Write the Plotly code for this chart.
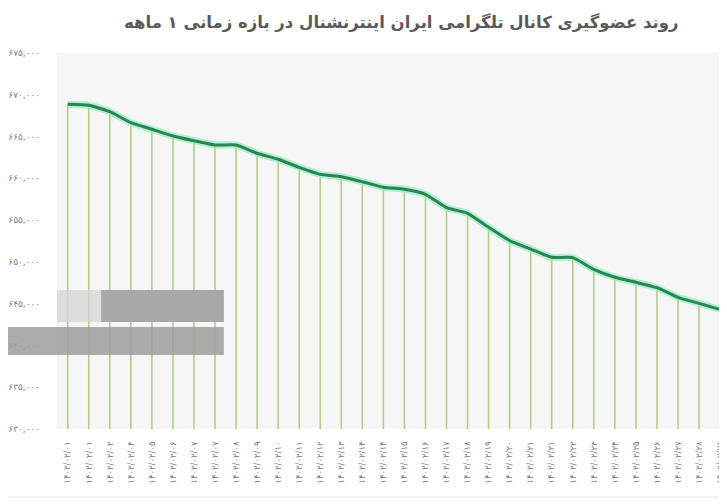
import plotly.graph_objects as go

FA = str.maketrans("0123456789", "۰۱۲۳۴۵۶۷۸۹")

title_text = "روند عضوگیری کانال تلگرامی ایران اینترنشنال در بازه زمانی ۱ ماهه"

days = ["01", "01", "02", "04", "05", "06", "07", "07", "08", "09", "10",
        "11", "12", "13", "14", "14", "15", "16", "17", "18", "19", "20",
        "21", "21", "22", "23", "24", "25", "26", "27", "28", "28", "29"]

members = [668860, 668740, 667975, 666660, 665870, 665070, 664500, 663990,
           663990, 663000, 662280, 661320, 660480, 660200, 659600, 658930,
           658690, 658090, 656490, 655820, 654140, 652540, 651540, 650550,
           650510, 649110, 648160, 647560, 646910, 645760, 645040, 644330,
           644250]

y_ticks = [630000, 635000, 640000, 645000, 650000, 655000, 660000, 665000, 670000, 675000]

dates = [("1402/02/" + d).translate(FA) for d in days]
y_tick_text = [f"{v:,}".translate(FA) for v in y_ticks]
idx = list(range(len(members)))
y_base = y_ticks[0]

# drop lines from each point to the axis
drop_x, drop_y = [], []
for i, v in zip(idx, members):
    drop_x += [i, i, None]
    drop_y += [y_base, v, None]

fig = go.Figure()
fig.add_trace(go.Scatter(x=drop_x, y=drop_y, mode="lines",
                         line=dict(color="#b2cd8a", width=1.6),
                         hoverinfo="skip", showlegend=False))
fig.add_trace(go.Scatter(x=idx, y=members, mode="lines",
                         line=dict(color="rgba(150,238,195,0.75)", width=7,
                                   shape="spline", smoothing=0.5),
                         hoverinfo="skip", showlegend=False))
fig.add_trace(go.Scatter(x=idx, y=members, mode="lines",
                         line=dict(color="#2b8552", width=3,
                                   shape="spline", smoothing=0.5),
                         showlegend=False))

# the page body has an 8px default margin, so the figure is sized to fit the rest
fig.update_layout(
    width=719, height=496, autosize=False,
    margin=dict(l=49, r=0, t=45, b=75),
    paper_bgcolor="white", plot_bgcolor="#f6f6f6",
    font=dict(family="DejaVu Sans", color="#777777"),
    showlegend=False,
)
fig.update_xaxes(
    range=[-0.51, 31.33], tickmode="array", tickvals=idx, ticktext=dates,
    tickangle=-90, tickfont=dict(size=8.5, color="#777777"),
    showgrid=False, zeroline=False, showline=False, automargin=False,
    ticks="outside", ticklen=8, tickcolor="rgba(0,0,0,0)",
)
fig.update_yaxes(
    range=[630000, 675000], tickmode="array", tickvals=y_ticks, ticktext=y_tick_text,
    tickfont=dict(size=9, color="#808080"),
    showgrid=False, zeroline=False, showline=False, automargin=False,
    ticks="outside", ticklen=14, tickcolor="rgba(0,0,0,0)",
)

fig.add_annotation(
    text="<b>" + title_text + "</b>", xref="paper", yref="paper",
    x=0.93, y=1.082, xanchor="right", yanchor="middle", showarrow=False,
    font=dict(family="DejaVu Sans", size=16.5, color="#5a5a5a"),
)

shapes = [
    dict(type="rect", xref="paper", yref="paper", x0=0.0, x1=0.249, y0=0.2846, y1=0.3697,
         fillcolor="#d4d4d4", opacity=0.75, line=dict(width=0), layer="above"),
    dict(type="rect", xref="paper", yref="paper", x0=0.066, x1=0.249, y0=0.2846, y1=0.3697,
         fillcolor="#a8a8a8", opacity=1, line=dict(width=0), layer="above"),
    dict(type="rect", xref="paper", yref="paper", x0=-0.0851, x1=0.249, y0=0.1968, y1=0.2713,
         fillcolor="#9e9e9e", opacity=0.85, line=dict(width=0), layer="above"),
    dict(type="line", xref="paper", yref="paper", x0=-0.0851, x1=1, y0=-0.181, y1=-0.181,
         line=dict(color="#e2e2e2", width=1), layer="above"),
]
fig.update_layout(shapes=shapes)

fig.write_html("out.html")
